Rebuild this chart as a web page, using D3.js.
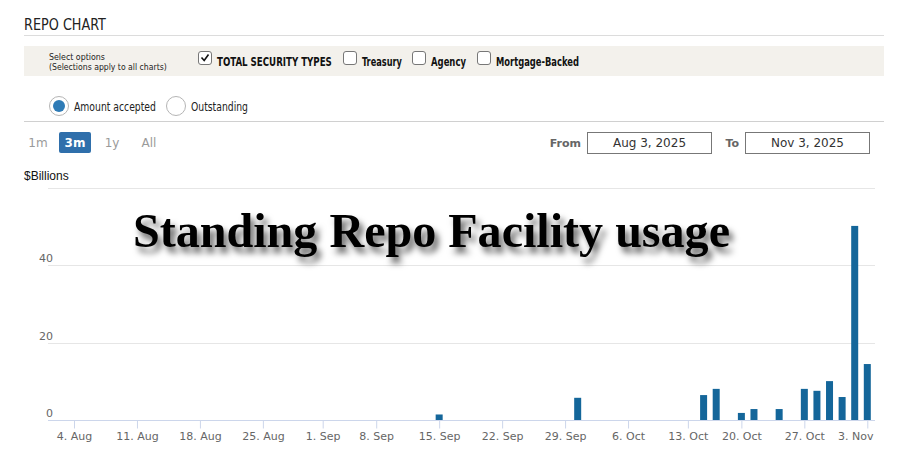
<!DOCTYPE html>
<html><head><meta charset="utf-8">
<script src="https://cdn.jsdelivr.net/npm/d3@7/dist/d3.min.js"></script>
<style>body{margin:0;background:#fff}svg{display:block}</style>
</head><body><svg id="c" width="904" height="452"></svg>
<script>
// Business days shown on the ordinal axis (Labor Day and Columbus Day excluded)
const dates = [
 "2025-08-04","2025-08-05","2025-08-06","2025-08-07","2025-08-08",
 "2025-08-11","2025-08-12","2025-08-13","2025-08-14","2025-08-15",
 "2025-08-18","2025-08-19","2025-08-20","2025-08-21","2025-08-22",
 "2025-08-25","2025-08-26","2025-08-27","2025-08-28","2025-08-29",
 "2025-09-02","2025-09-03","2025-09-04","2025-09-05",
 "2025-09-08","2025-09-09","2025-09-10","2025-09-11","2025-09-12",
 "2025-09-15","2025-09-16","2025-09-17","2025-09-18","2025-09-19",
 "2025-09-22","2025-09-23","2025-09-24","2025-09-25","2025-09-26",
 "2025-09-29","2025-09-30","2025-10-01","2025-10-02","2025-10-03",
 "2025-10-06","2025-10-07","2025-10-08","2025-10-09","2025-10-10",
 "2025-10-14","2025-10-15","2025-10-16","2025-10-17",
 "2025-10-20","2025-10-21","2025-10-22","2025-10-23","2025-10-24",
 "2025-10-27","2025-10-28","2025-10-29","2025-10-30","2025-10-31",
 "2025-11-03"
];
// Amount accepted, $ billions
const values = [
 0,0,0,0,0, 0,0,0,0,0, 0,0,0,0,0, 0,0,0,0,0,
 0,0,0,0, 0,0,0,0,0,
 1.5,0,0,0,0, 0,0,0,0,0,
 0,5.8,0,0,0, 0,0,0,0,0,
 0,6.5,8.1,0,
 1.9,2.9,0,2.9,0,
 8.1,7.6,10.1,6.0,50.1,
 14.5
];
const yTicks = [0,20,40,60];
const yTickLabels = ["0","20","40",""];
const xTickDates = ["2025-08-04","2025-08-11","2025-08-18","2025-08-25","2025-09-01","2025-09-08",
 "2025-09-15","2025-09-22","2025-09-29","2025-10-06","2025-10-13","2025-10-20","2025-10-27","2025-11-03"];
const securityTypes = ["TOTAL SECURITY TYPES","Treasury","Agency","Mortgage-Backed"];
const rangeButtons = ["1m","3m","1y","All"];

const svg = d3.select("#c");
const BAR = "#14669a";
const COND = "'DejaVu Sans Condensed','Liberation Sans Narrow','Roboto',sans-serif";

// text squeezed horizontally to a given width (condensed look)
function fitText(x, y, t, w, size, weight, fill){
  const el = svg.append("text").attr("font-family",COND).attr("font-size",size)
    .attr("font-weight",weight||"normal").attr("fill",fill||"#222").text(t);
  const len = el.node().getComputedTextLength();
  el.attr("transform",`translate(${x},${y}) scale(${w/len},1)`);
  return el;
}

// ---------- header ----------
fitText(24,30,"REPO CHART",82,16,"normal","#222");
svg.append("line").attr("x1",24).attr("x2",884).attr("y1",35.5).attr("y2",35.5).attr("stroke","#dcdcdc");
svg.append("rect").attr("x",24).attr("y",46).attr("width",860).attr("height",30).attr("fill","#f3f1ec");
fitText(49,60,"Select options",56,9.5,"normal","#222");
fitText(49,70,"(Selections apply to all charts)",118,9.5,"normal","#222");

const cbX = [198,343,412,477], cbW = [115,40,35,83];
securityTypes.forEach((t,i)=>{
  svg.append("rect").attr("x",cbX[i]+0.5).attr("y",51.5).attr("width",13).attr("height",13).attr("rx",2.5)
    .attr("fill","#fff").attr("stroke","#777");
  if(i===0){
    svg.append("path").attr("d",`M${cbX[i]+3.5},57.5 L${cbX[i]+6.2},60.5 L${cbX[i]+10.5},54.5`)
      .attr("fill","none").attr("stroke","#111").attr("stroke-width",1.6);
  }
  fitText(cbX[i]+19,66,t,cbW[i],13,"bold","#111");
});

// radios
[[59,"Amount accepted",82,true],[176,"Outstanding",57,false]].forEach(([cx,t,w,on])=>{
  svg.append("circle").attr("cx",cx).attr("cy",106).attr("r",9.5).attr("fill","#fff").attr("stroke","#b5b5b5");
  if(on) svg.append("circle").attr("cx",cx).attr("cy",106).attr("r",6).attr("fill","#2e7bb6");
  fitText(cx+15,111,t,w,13,"normal","#222");
});
svg.append("line").attr("x1",24).attr("x2",884).attr("y1",121.5).attr("y2",121.5).attr("stroke","#d0d0d0");

// range buttons
const rbX = [38,75,112,149];
svg.append("rect").attr("x",59).attr("y",132).attr("width",32).attr("height",21).attr("rx",2).attr("fill","#2f6fab");
rangeButtons.forEach((t,i)=>{
  svg.append("text").attr("x",rbX[i]).attr("y",146.5).attr("text-anchor","middle")
    .attr("font-family","'DejaVu Sans',sans-serif").attr("font-size",12)
    .attr("font-weight", i===1?"bold":"normal").attr("fill", i===1?"#fff":"#9a9a9a").text(t);
});
// date inputs
svg.append("text").attr("x",581).attr("y",146.5).attr("text-anchor","end").attr("font-family","'DejaVu Sans',sans-serif")
  .attr("font-size",11).attr("font-weight","bold").attr("fill","#666").text("From");
svg.append("text").attr("x",739).attr("y",146.5).attr("text-anchor","end").attr("font-family","'DejaVu Sans',sans-serif")
  .attr("font-size",11).attr("font-weight","bold").attr("fill","#666").text("To");
[[587,"Aug 3, 2025"],[745,"Nov 3, 2025"]].forEach(([bx,t])=>{
  svg.append("rect").attr("x",bx+0.5).attr("y",132.5).attr("width",124).attr("height",21).attr("fill","#fff").attr("stroke","#777");
  svg.append("text").attr("x",bx+62.5).attr("y",146.5).attr("text-anchor","middle").attr("font-family","'DejaVu Sans',sans-serif")
    .attr("font-size",12).attr("fill","#333").text(t);
});
svg.append("text").attr("x",24).attr("y",180).attr("font-family","'Liberation Sans',Arial,sans-serif")
  .attr("font-size",12).attr("fill","#111").text("$Billions");

// ---------- chart ----------
const plotL = 48, plotR = 875, plotTop = 187.5, plotBottom = 420.3;
const parse = d3.utcParse("%Y-%m-%d");
const pd = dates.map(parse);
const idx = d3.scaleLinear().domain([0, pd.length-1]).range([74, 867.3]);
const x = d3.scaleUtc().domain(pd).range(pd.map((d,i)=>idx(i)));
const y = d3.scaleLinear().domain([0,60]).range([plotBottom, plotTop]);

const g = svg.append("g");
yTicks.forEach((t,i)=>{
  if(t>0) g.append("line").attr("x1",plotL).attr("x2",plotR).attr("y1",Math.round(y(t))+0.5).attr("y2",Math.round(y(t))+0.5)
    .attr("stroke","#e6e6e6");
  if(yTickLabels[i]) g.append("text").attr("x",53).attr("y",y(t)-3).attr("text-anchor","end")
    .attr("font-family","'DejaVu Sans',sans-serif").attr("font-size",11).attr("fill","#666").text(yTickLabels[i]);
});

const xAxis = d3.axisBottom(x).tickValues(xTickDates.map(parse)).tickFormat(d3.utcFormat("%-d. %b")).tickSize(8).tickPadding(4);
const ax = svg.append("g").attr("transform",`translate(0,${Math.round(plotBottom)+0.5})`).call(xAxis);
ax.select(".domain").remove();
ax.selectAll(".tick line").attr("stroke","#ccd6eb");
ax.selectAll(".tick text").attr("font-family","'DejaVu Sans',sans-serif").attr("font-size",11).attr("fill","#666");
// keep the last label inside the plot area (as the original does)
ax.selectAll(".tick").filter((d,i,n)=>i===n.length-1).select("text")
  .attr("text-anchor","end").attr("x", plotR - 2 - x(parse(xTickDates[xTickDates.length-1])));
svg.append("line").attr("x1",plotL).attr("x2",plotR).attr("y1",Math.round(plotBottom)+0.5).attr("y2",Math.round(plotBottom)+0.5)
  .attr("stroke","#ccd6eb");

g.selectAll("rect.bar").data(pd.map((d,i)=>({d, v:values[i]})).filter(o=>o.v>0)).enter()
  .append("rect").attr("class","bar")
  .attr("x",o=>x(o.d)-3.5).attr("width",7)
  .attr("y",o=>y(o.v)).attr("height",o=>y(0)-y(o.v)).attr("fill",BAR);

// ---------- overlay title ----------
const defs = svg.append("defs");
const f = defs.append("filter").attr("id","sh").attr("x","-10%").attr("y","-40%").attr("width","130%").attr("height","200%");
f.append("feDropShadow").attr("dx",4).attr("dy",6).attr("stdDeviation",3).attr("flood-color","#000").attr("flood-opacity",0.6);
svg.append("text").attr("x",133).attr("y",247).attr("font-family","'Liberation Serif','Times New Roman',serif")
  .attr("font-weight","bold").attr("font-size",49).attr("fill","#000").attr("filter","url(#sh)")
  .attr("textLength",597).attr("lengthAdjust","spacingAndGlyphs").text("Standing Repo Facility usage");
</script></body></html>
